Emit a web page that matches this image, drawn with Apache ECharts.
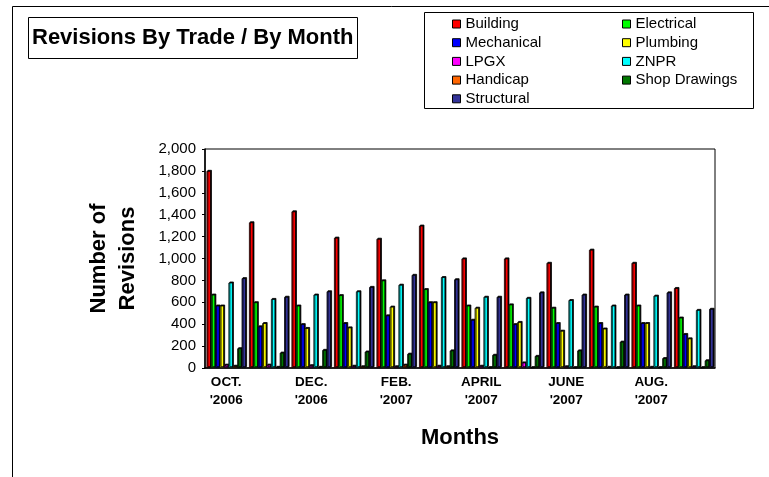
<!DOCTYPE html>
<html><head><meta charset="utf-8">
<script src="https://cdn.jsdelivr.net/npm/echarts@6/dist/echarts.min.js"></script>
<style>html,body{margin:0;padding:0;background:#fff}#c{width:769px;height:477px}</style>
</head><body><div id="c"></div>
<script>
const months = ["OCT.\n'2006","NOV.\n'2006","DEC.\n'2006","JAN.\n'2007","FEB.\n'2007","MAR.\n'2007","APRIL\n'2007","MAY\n'2007","JUNE\n'2007","JULY\n'2007","AUG.\n'2007","SEPT.\n'2007"];
const seriesNames = ["Building","Electrical","Mechanical","Plumbing","LPGX","ZNPR","Handicap","Shop Drawings","Structural"];
const seriesColors = ["#ff0000","#00ff00","#0000ff","#ffff00","#ff00ff","#00ffff","#ff6600","#007700","#333399"];
const building     = [1800,1330,1430,1190,1180,1300,1000,1000,960,1080,960,730];
const electrical   = [670,600,570,665,800,720,570,580,550,560,570,460];
const mechanical   = [570,380,400,410,480,600,440,400,410,410,410,310];
const plumbing     = [570,410,365,370,560,600,550,420,340,360,410,270];
const lpgx         = [30,30,25,20,15,20,20,50,15,10,10,15];
const znpr         = [780,630,670,700,760,830,650,640,620,570,660,530];
const handicap     = [20,10,10,15,30,15,5,5,5,5,5,5];
const shopDrawings = [180,140,165,150,130,160,120,110,160,240,90,70];
const structural   = [820,650,700,740,850,810,650,690,670,670,690,540];
const yTicks = [0,200,400,600,800,1000,1200,1400,1600,1800,2000];

const allData = [building,electrical,mechanical,plumbing,lpgx,znpr,handicap,shopDrawings,structural];
const FONT = '"Liberation Sans", Arial, sans-serif';

const chart = echarts.init(document.getElementById('c'), null, {renderer:'canvas'});
const series = seriesNames.map((n,i)=>({
  name:n, type:'bar', data:allData[i], barGap:'0%', barCategoryGap:'7%',
  itemStyle:{color:seriesColors[i], borderColor:'#000', borderWidth:0.8,
    shadowColor:'#000', shadowBlur:0, shadowOffsetX:1, shadowOffsetY:-1},
  emphasis:{disabled:true}, animation:false
}));
const legendCommon = {
  orient:'vertical', padding:0, icon:'rect', itemWidth:8, itemHeight:8, itemGap:3.7,
  selectedMode:false,
  itemStyle:{borderColor:'#000', borderWidth:1, shadowBlur:0, shadowOffsetX:0, shadowOffsetY:0, shadowColor:'transparent'},
  textStyle:{fontFamily:FONT, fontSize:15, color:'#000', lineHeight:15, padding:[0,0,0,0]}
};
chart.setOption({
  animation:false,
  backgroundColor:'#fff',
  title:{text:'Revisions By Trade / By Month', left:28, top:17, padding:[10,4,9.5,4],
    borderColor:'#000', borderWidth:1,
    textStyle:{fontFamily:FONT, fontSize:22, fontWeight:'bold', color:'#000'}},
  legend:[
    Object.assign({left:452, top:16.5, data:[seriesNames[0],seriesNames[2],seriesNames[4],seriesNames[6],seriesNames[8]]}, legendCommon),
    Object.assign({left:622, top:16.5, data:[seriesNames[1],seriesNames[3],seriesNames[5],seriesNames[7]]}, legendCommon)
  ],
  graphic:[
    {type:'rect', shape:{x:12.5, y:6.5, width:820, height:520}, style:{fill:'none', stroke:'#000', lineWidth:1}, silent:true, z:-1},
    {type:'rect', shape:{x:424.5, y:12.5, width:329, height:96}, style:{fill:'none', stroke:'#000', lineWidth:1}, silent:true}
  ],
  grid:{left:205, right:54, top:149, bottom:109, show:true, borderColor:'#000', borderWidth:1, backgroundColor:'#fff'},
  xAxis:{type:'category', data:months, name:'Months', nameLocation:'middle', nameGap:59,
    nameTextStyle:{fontFamily:FONT, fontSize:22, fontWeight:'bold', color:'#000'},
    axisLine:{show:true, lineStyle:{color:'#000', width:1.5}},
    axisTick:{show:false},
    axisLabel:{interval:1, fontFamily:FONT, fontSize:13.5, fontWeight:'bold', color:'#000', lineHeight:18, margin:5}},
  yAxis:{type:'value', min:0, max:2000, interval:200, name:'Number of\nRevisions', nameLocation:'middle', nameGap:63,
    nameTextStyle:{fontFamily:FONT, fontSize:22, fontWeight:'bold', color:'#000', lineHeight:29},
    axisLine:{show:true, lineStyle:{color:'#000', width:1.5}},
    axisTick:{show:true, length:3, lineStyle:{color:'#000'}},
    splitLine:{show:false},
    axisLabel:{fontFamily:FONT, fontSize:15, color:'#000', margin:9,
      formatter:v=>yTicks.includes(v)? v.toLocaleString('en-US'):''}},
  series:series
});
</script></body></html>
